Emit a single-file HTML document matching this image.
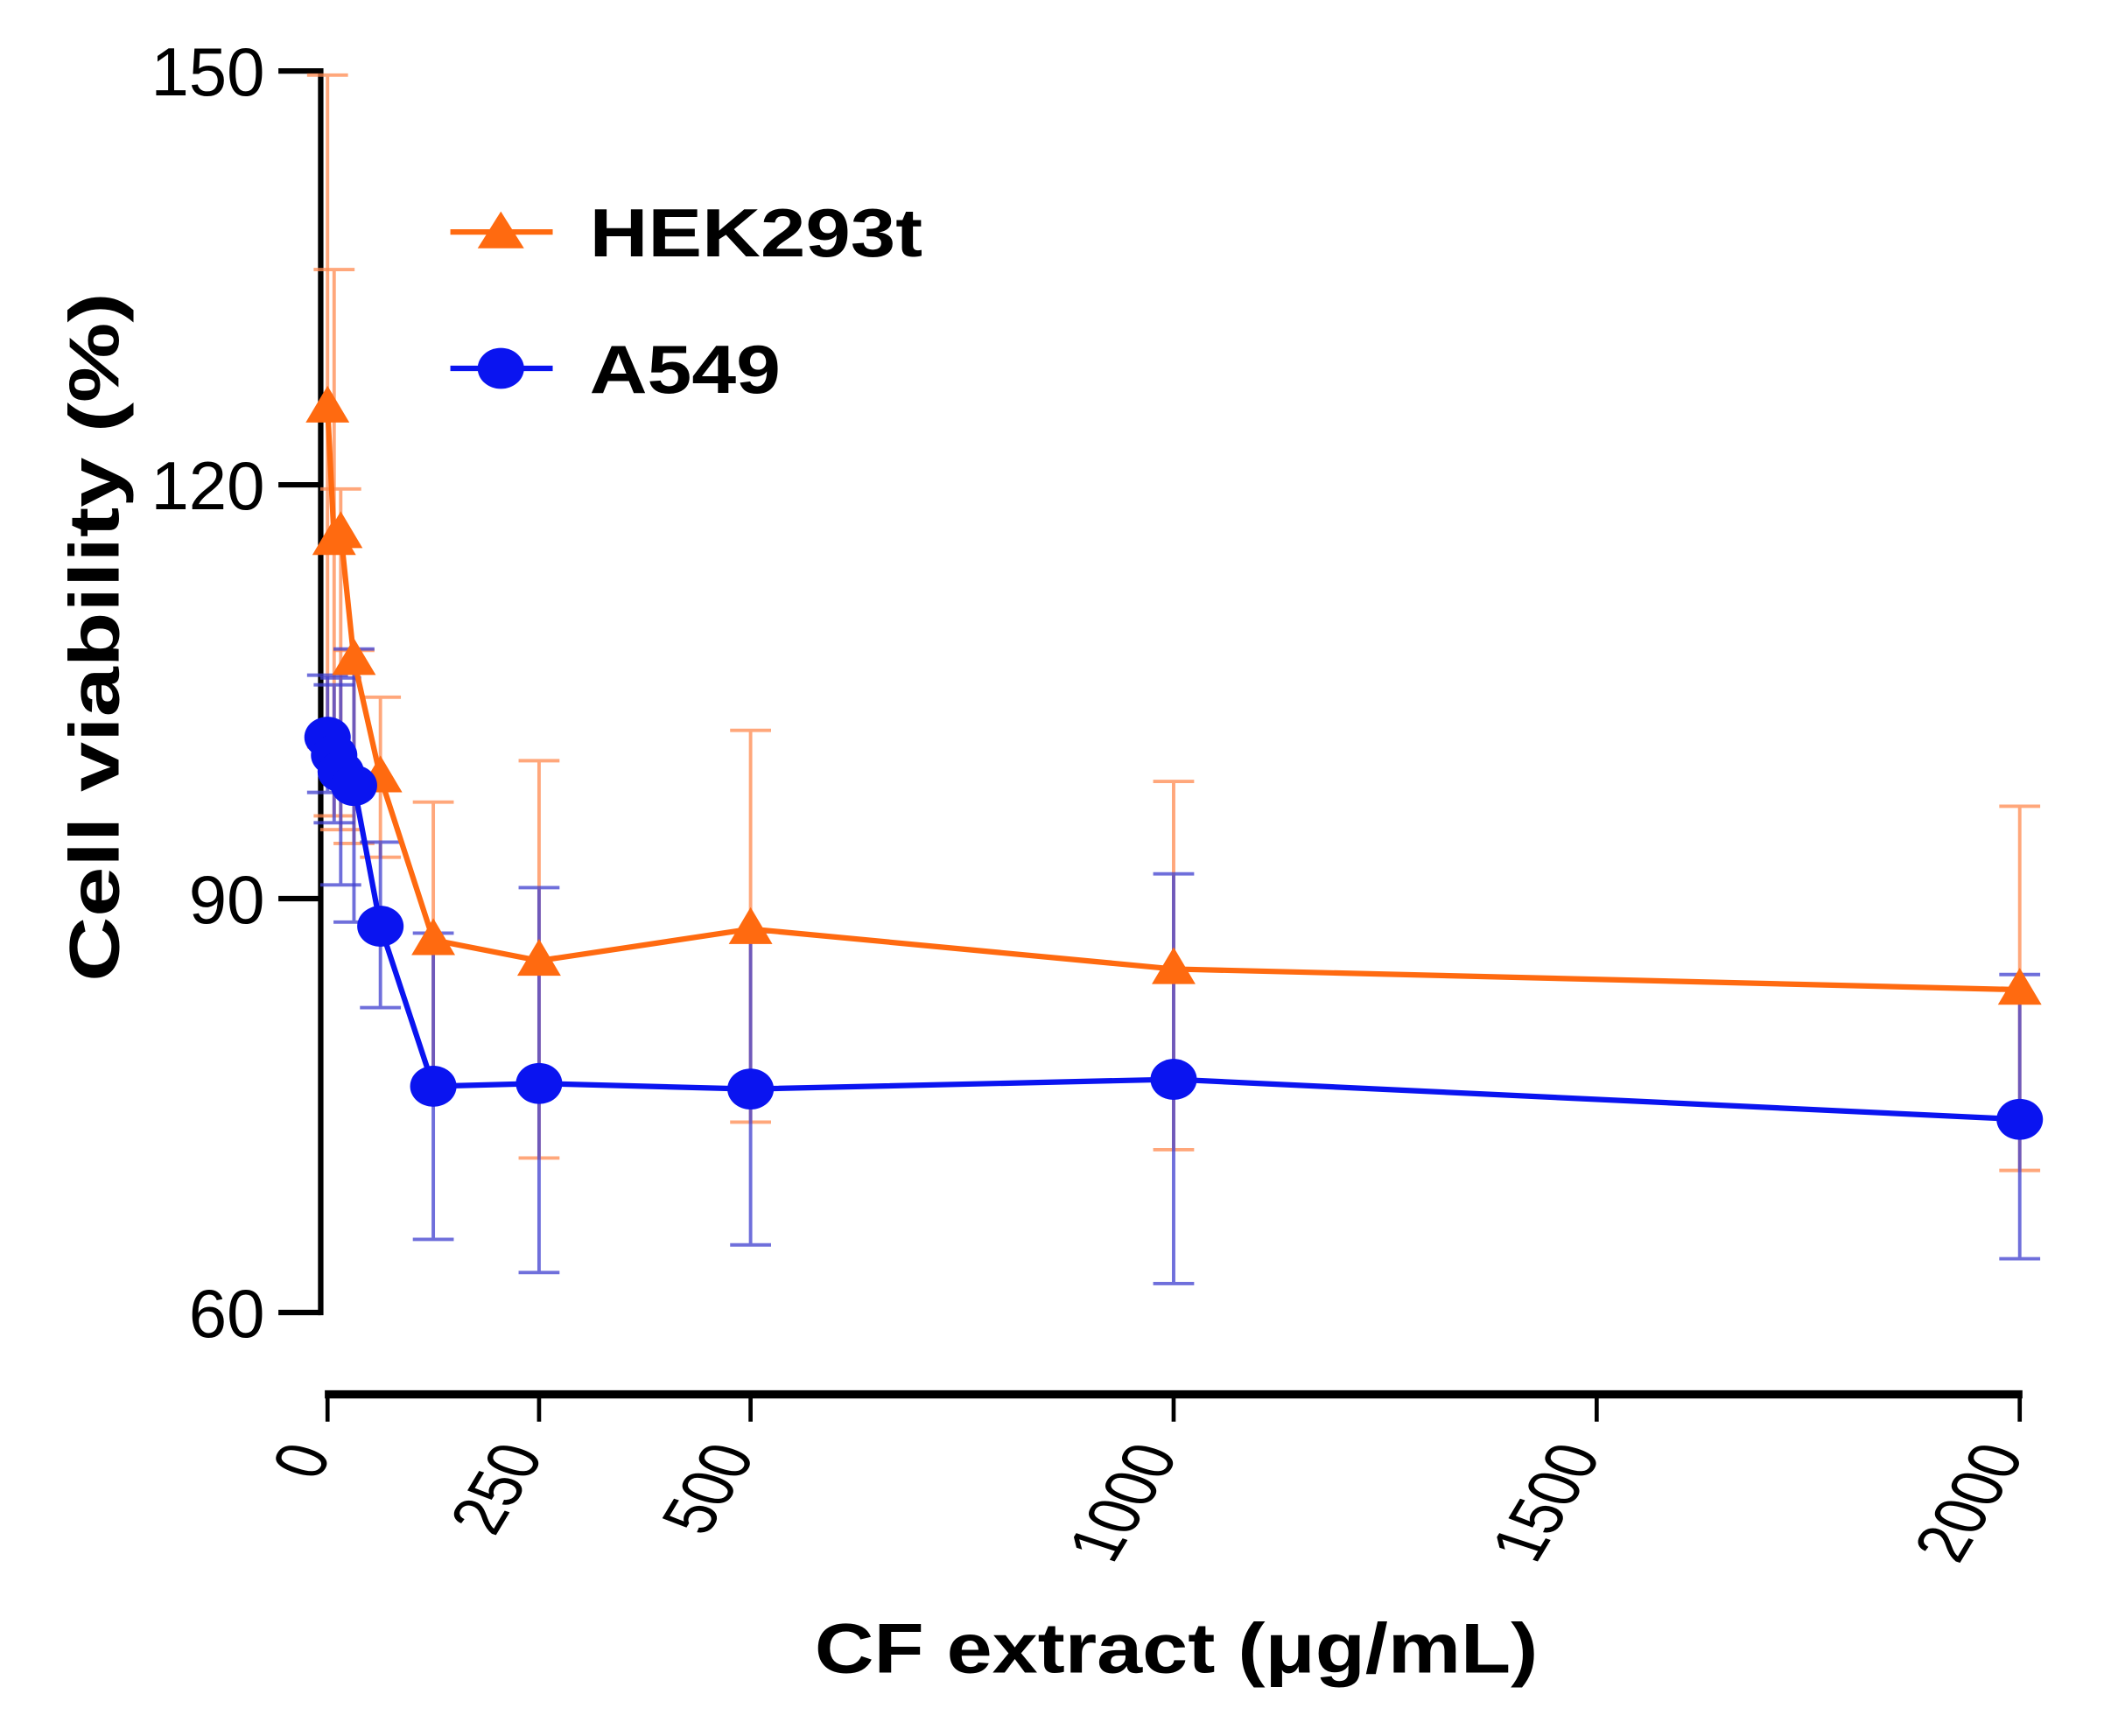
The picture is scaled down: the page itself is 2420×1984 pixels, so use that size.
<!DOCTYPE html>
<html><head><meta charset="utf-8"><style>
html,body{margin:0;padding:0;background:#fff;}
svg{display:block;}
text{font-family:"Liberation Sans",Arial,sans-serif;}
</style></head><body>
<svg id="chart" width="2420" height="1984" viewBox="0 0 1552 1272.4" xmlns="http://www.w3.org/2000/svg">
<g id="axes"></g>
<g id="errs"></g>
<g id="series"></g>
<g id="legend">
  <line x1="330" y1="170" x2="405" y2="170" stroke="#ff6a10" stroke-width="4"/>
  <polygon points="367,155 384,182 350,182" fill="#ff6a10"/>
  <text x="432" y="188" font-size="50" font-weight="bold" textLength="244" lengthAdjust="spacingAndGlyphs">HEK293t</text>
  <line x1="330" y1="270" x2="405" y2="270" stroke="#0a14f0" stroke-width="4"/>
  <ellipse cx="367" cy="270" rx="17" ry="15" fill="#0a14f0"/>
  <text x="432" y="288" font-size="50" font-weight="bold" textLength="140" lengthAdjust="spacingAndGlyphs">A549</text>
</g>
<text transform="translate(87,467) rotate(-90)" text-anchor="middle" font-size="52" font-weight="bold" textLength="505" lengthAdjust="spacingAndGlyphs">Cell viability (%)</text>
<text x="862" y="1226" text-anchor="middle" font-size="52" font-weight="bold" textLength="530" lengthAdjust="spacingAndGlyphs">CF extract (μg/mL)</text>
</svg>
<script>
const xVals = [0, 7.8, 15.6, 31.25, 62.5, 125, 250, 500, 1000, 2000];
const hekMean = [125.6, 116, 116.5, 107.3, 98.8, 87, 85.5, 87.8, 84.9, 83.4];
const hekUpper = [149.7, 135.6, 119.7, 108, 104.6, 97, 100, 102.2, 98.5, 96.7];
const hekLower = [101, 96, 95, 94, 93, 77, 71.2, 73.8, 71.8, 70.3];
const a549Mean = [101.7, 100.4, 99.2, 98.2, 88, 76.4, 76.6, 76.2, 76.9, 74];
const a549Upper = [106.2, 105.5, 106, 108.1, 94.1, 87.5, 90.8, 87.6, 91.8, 84.5];
const a549Lower = [97.7, 95.5, 91, 88.3, 82.1, 65.3, 62.9, 64.9, 62.1, 63.9];
const yTicks = [60, 90, 120, 150];
const xTicks = [0, 250, 500, 1000, 1500, 2000];

const NS = "http://www.w3.org/2000/svg";
function X(v){ return 240 + v * (1480 - 240) / 2000; }
function Y(v){ return 962 - (v - 60) * (962 - 52) / 90; }
function mk(tag, attrs, parent){ const e=document.createElementNS(NS,tag); for(const k in attrs) e.setAttribute(k,attrs[k]); parent.appendChild(e); return e; }
const axes=document.getElementById('axes'), errs=document.getElementById('errs'), ser=document.getElementById('series');

let e=mk('line',{x1:235,y1:Y(150)-2,x2:235,y2:Y(60)+2,stroke:'#000','stroke-width':4},axes);


yTicks.forEach(t=>{
  let l=mk('line',{x1:204,y1:Y(t),x2:235,y2:Y(t),stroke:'#000','stroke-width':4},axes);
  
  
  let tx=mk('text',{x:194,y:Y(t)+18,'text-anchor':'end','font-size':50},axes); tx.textContent=t;
  
  
});
e=mk('line',{x1:X(0)-2,y1:1022,x2:X(2000)+2,y2:1022,stroke:'#000','stroke-width':6},axes);


xTicks.forEach(t=>{
  let l=mk('line',{x1:X(t),y1:1022,x2:X(t),y2:1042,stroke:'#000','stroke-width':3},axes);
  
  
  let tx=mk('text',{transform:`translate(${X(t)+4},1066) scale(1.35,1) rotate(-66)`,'text-anchor':'end','font-size':40},axes); tx.textContent=t;
  
  
});

function drawSeries(mean,up,lo,color,errColor,shape,name){
  for(let i=0;i<xVals.length;i++){
    const x=X(xVals[i]);
    let g=mk('g',{stroke:errColor,'stroke-width':2.5,opacity:0.75},errs);
    
    
    mk('line',{x1:x,y1:Y(up[i]),x2:x,y2:Y(lo[i])},g);
    mk('line',{x1:x-15,y1:Y(up[i]),x2:x+15,y2:Y(up[i])},g);
    mk('line',{x1:x-15,y1:Y(lo[i]),x2:x+15,y2:Y(lo[i])},g);
  }
  const pts=xVals.map((v,i)=>X(v)+','+Y(mean[i])).join(' ');
  let pl=mk('polyline',{points:pts,fill:'none',stroke:color,'stroke-width':4,'stroke-linejoin':'round'},ser);
  
  
  for(let i=0;i<xVals.length;i++){
    const x=X(xVals[i]), y=Y(mean[i]); let m;
    if(shape==='tri') m=mk('polygon',{points:`${x},${y-16} ${x+16},${y+11} ${x-16},${y+11}`,fill:color},ser);
    else m=mk('ellipse',{cx:x,cy:y,rx:17,ry:15,fill:color},ser);
    
    
  }
}
drawSeries(hekMean,hekUpper,hekLower,'#ff6a10','#ff8a50','tri','hek293t');
drawSeries(a549Mean,a549Upper,a549Lower,'#0a14f0','#4040d0','circ','a549');
</script>
</body></html>
